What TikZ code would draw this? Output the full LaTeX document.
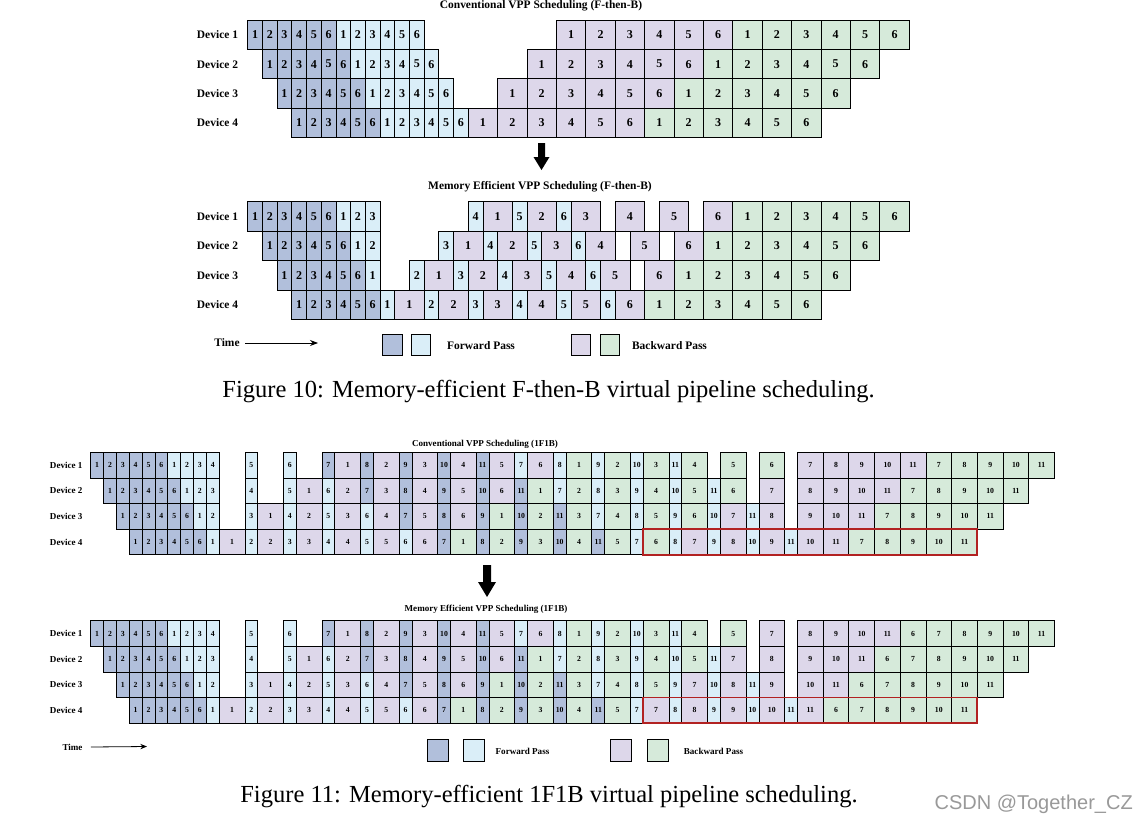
\documentclass[tikz,border=0pt]{standalone}
\usepackage{fontspec}
\setmainfont{Liberation Serif}
\setsansfont{Liberation Sans}
\usetikzlibrary{arrows.meta}

\definecolor{fwdA}{HTML}{B1BFDB}
\definecolor{fwdB}{HTML}{DAEEF8}
\definecolor{bwdA}{HTML}{DDD7EA}
\definecolor{bwdB}{HTML}{D6EADA}
\definecolor{hilite}{HTML}{B22222}
\colorlet{cellF}{fwdA}
\colorlet{cellf}{fwdB}
\colorlet{cellB}{bwdA}
\colorlet{cellb}{bwdB}

\newcommand\cellfont{}
\newcommand\labelfont{}
\newcommand\unitw{}
\newcommand\rowh{}
\newcommand\gridx{}
\newcommand\gridy{}

\tikzset{
  cell/.style={draw=black, line width=0.6pt, inner sep=0pt, outer sep=0pt,
    anchor=north west, font=\cellfont},
  devlabel/.style={anchor=east, inner sep=0pt, font=\labelfont},
  heading/.style={inner sep=0pt, font=\labelfont},
  legbox/.style={draw=black, line width=0.6pt, inner sep=0pt},
  caption/.style={inner sep=0pt, font=\fontsize{18.4}{20}\selectfont},
}

% one row of a schedule: #1 grid name, #2 device, #3 first column, #4 cells
% F/f forward (1 column), B/b backward (2 columns), g empty column
\newcommand\schedrow[4]{%
  \xdef\curcol{#3}%
  \foreach \kind/\lab in {#4}{%
    \def\cellw{1}%
    \if\kind B\def\cellw{2}\fi
    \if\kind b\def\cellw{2}\fi
    \if\kind g\else
      \node[cell, fill=cell\kind, minimum width=\cellw*\unitw*0.75pt,
        minimum height=\rowh*0.75pt] (#1-#2-\curcol)
        at ({\gridx+\curcol*\unitw}, {\gridy+(#2-1)*\rowh}) {\lab};
    \fi
    \pgfmathtruncatemacro\nextcol{\curcol+\cellw}%
    \xdef\curcol{\nextcol}%
  }%
}

\begin{document}
\begin{tikzpicture}[x=0.75pt, y=-0.75pt]
    \fill[white] (0,0) rectangle (1138,824);
    \useasboundingbox (0,0) rectangle (1138,824);

    %% Figure 10
    \renewcommand\cellfont{\fontsize{9}{10}\selectfont\bfseries}
    \renewcommand\labelfont{\fontsize{8.6}{9}\selectfont\bfseries}
    \renewcommand\unitw{14.7}
    \renewcommand\rowh{29.4}
    \renewcommand\gridx{247.7}

    % conventional F-then-B
    \renewcommand\gridy{20}
    \node[heading] (cv-title) at (541,5.5) {Conventional VPP Scheduling (F-then-B)};
    \foreach \dev/\fs/\bs in {1/0/21,2/1/19,3/2/17,4/3/15}{
        \node[devlabel] (cv-dev\dev) at ({\gridx-9.4}, {\gridy+(\dev-0.5)*\rowh}) {Device \dev};
        \schedrow{cv}{\dev}{\fs}{F/1,F/2,F/3,F/4,F/5,F/6,f/1,f/2,f/3,f/4,f/5,f/6}
        \schedrow{cv}{\dev}{\bs}{B/1,B/2,B/3,B/4,B/5,B/6,b/1,b/2,b/3,b/4,b/5,b/6}
    }

    \fill (538,143) -- (545,143) -- (545,157) -- (549.5,157) -- (541.5,170)
        -- (533.5,157) -- (538,157) -- cycle;

    % memory efficient F-then-B
    \renewcommand\gridy{201.7}
    \node[heading] (me-title) at (540,187) {Memory Efficient VPP Scheduling (F-then-B)};
    \foreach \dev in {1,...,4}
        \node[devlabel] (me-dev\dev) at ({\gridx-9.4}, {\gridy+(\dev-0.5)*\rowh}) {Device \dev};
    \schedrow{me}{1}{0}{F/1,F/2,F/3,F/4,F/5,F/6,f/1,f/2,f/3}
    \schedrow{me}{1}{15}{f/4,B/1,f/5,B/2,f/6,B/3,g/-,B/4,g/-,B/5,g/-,B/6,b/1,b/2,b/3,b/4,b/5,b/6}
    \schedrow{me}{2}{1}{F/1,F/2,F/3,F/4,F/5,F/6,f/1,f/2}
    \schedrow{me}{2}{13}{f/3,B/1,f/4,B/2,f/5,B/3,f/6,B/4,g/-,B/5,g/-,B/6,b/1,b/2,b/3,b/4,b/5,b/6}
    \schedrow{me}{3}{2}{F/1,F/2,F/3,F/4,F/5,F/6,f/1}
    \schedrow{me}{3}{11}{f/2,B/1,f/3,B/2,f/4,B/3,f/5,B/4,f/6,B/5,g/-,B/6,b/1,b/2,b/3,b/4,b/5,b/6}
    \schedrow{me}{4}{3}{F/1,F/2,F/3,F/4,F/5,F/6,f/1,B/1,f/2,B/2,f/3,B/3,f/4,B/4,f/5,B/5,f/6,B/6,b/1,b/2,b/3,b/4,b/5,b/6}

    % legend
    \node[heading] (time1) at (227,343) {Time};
    \coordinate (time1end) at (318,343);
    \draw[line width=0.6pt, -{Stealth[length=6pt,width=4.5pt]}] ([xshift=4pt]time1.east) -- (time1end);
    \node[legbox, fill=fwdA, minimum width=14.6pt, minimum height=15.8pt] (leg1F) at (392.5,345) {};
    \node[legbox, fill=fwdB, minimum width=14.6pt, minimum height=15.8pt] (leg1f) at (421,345) {};
    \node[heading] (leg1fwd) at (481,345.5) {Forward Pass};
    \node[legbox, fill=bwdA, minimum width=14.6pt, minimum height=15.8pt] (leg1B) at (581,345) {};
    \node[legbox, fill=bwdB, minimum width=14.6pt, minimum height=15.8pt] (leg1b) at (610,345) {};
    \node[heading] (leg1bwd) at (669.5,345.5) {Backward Pass};

    \node[caption] (cap10) at (548.5,392) {Figure 10: Memory-efficient F-then-B virtual pipeline scheduling.};

    %% Figure 11
    \renewcommand\cellfont{\fontsize{5.8}{6}\selectfont\bfseries}
    \renewcommand\labelfont{\fontsize{6.8}{7}\selectfont\bfseries}
    \renewcommand\unitw{12.85}
    \renewcommand\rowh{25.6}
    \renewcommand\gridx{90.7}

    % conventional 1F1B
    \renewcommand\gridy{452.3}
    \node[heading] (cw-title) at (485,444.5) {Conventional VPP Scheduling (1F1B)};
    \foreach \dev in {1,...,4}
        \node[devlabel] (cw-dev\dev) at ({\gridx-8}, {\gridy+(\dev-0.5)*\rowh}) {Device \dev};
    \schedrow{cw}{1}{0}{F/1,F/2,F/3,F/4,F/5,F/6,f/1,f/2,f/3,f/4,g/-,g/-,f/5,g/-,g/-,f/6,g/-,g/-,F/7,B/1,F/8,B/2,F/9,B/3,F/10,B/4,F/11,B/5,f/7,B/6,f/8,b/1,f/9,b/2,f/10,b/3,f/11,b/4,g/-,b/5,g/-,b/6,g/-,B/7,B/8,B/9,B/10,B/11,b/7,b/8,b/9,b/10,b/11}
    \schedrow{cw}{2}{1}{F/1,F/2,F/3,F/4,F/5,F/6,f/1,f/2,f/3,g/-,g/-,f/4,g/-,g/-,f/5,B/1,f/6,B/2,F/7,B/3,F/8,B/4,F/9,B/5,F/10,B/6,F/11,b/1,f/7,b/2,f/8,b/3,f/9,b/4,f/10,b/5,f/11,b/6,g/-,B/7,g/-,B/8,B/9,B/10,B/11,b/7,b/8,b/9,b/10,b/11}
    \schedrow{cw}{3}{2}{F/1,F/2,F/3,F/4,F/5,F/6,f/1,f/2,g/-,g/-,f/3,B/1,f/4,B/2,f/5,B/3,f/6,B/4,F/7,B/5,F/8,B/6,F/9,b/1,F/10,b/2,F/11,b/3,f/7,b/4,f/8,b/5,f/9,b/6,f/10,B/7,f/11,B/8,g/-,B/9,B/10,B/11,b/7,b/8,b/9,b/10,b/11}
    \schedrow{cw}{4}{3}{F/1,F/2,F/3,F/4,F/5,F/6,f/1,B/1,f/2,B/2,f/3,B/3,f/4,B/4,f/5,B/5,f/6,B/6,F/7,b/1,F/8,b/2,F/9,b/3,F/10,b/4,F/11,b/5,f/7,b/6,f/8,B/7,f/9,B/8,f/10,B/9,f/11,B/10,B/11,b/7,b/8,b/9,b/10,b/11}
    \draw[hilite, line width=1.3pt] (cw-4-43.north west) rectangle (cw-4-67.south east);

    \fill (483,565) -- (491,565) -- (491,582) -- (496,582) -- (487,597)
        -- (478,582) -- (483,582) -- cycle;

    % memory efficient 1F1B
    \renewcommand\gridy{620.7}
    \node[heading] (mw-title) at (486,609.5) {Memory Efficient VPP Scheduling (1F1B)};
    \foreach \dev in {1,...,4}
        \node[devlabel] (mw-dev\dev) at ({\gridx-8}, {\gridy+(\dev-0.5)*\rowh}) {Device \dev};
    \schedrow{mw}{1}{0}{F/1,F/2,F/3,F/4,F/5,F/6,f/1,f/2,f/3,f/4,g/-,g/-,f/5,g/-,g/-,f/6,g/-,g/-,F/7,B/1,F/8,B/2,F/9,B/3,F/10,B/4,F/11,B/5,f/7,B/6,f/8,b/1,f/9,b/2,f/10,b/3,f/11,b/4,g/-,b/5,g/-,B/7,g/-,B/8,B/9,B/10,B/11,b/6,b/7,b/8,b/9,b/10,b/11}
    \schedrow{mw}{2}{1}{F/1,F/2,F/3,F/4,F/5,F/6,f/1,f/2,f/3,g/-,g/-,f/4,g/-,g/-,f/5,B/1,f/6,B/2,F/7,B/3,F/8,B/4,F/9,B/5,F/10,B/6,F/11,b/1,f/7,b/2,f/8,b/3,f/9,b/4,f/10,b/5,f/11,B/7,g/-,B/8,g/-,B/9,B/10,B/11,b/6,b/7,b/8,b/9,b/10,b/11}
    \schedrow{mw}{3}{2}{F/1,F/2,F/3,F/4,F/5,F/6,f/1,f/2,g/-,g/-,f/3,B/1,f/4,B/2,f/5,B/3,f/6,B/4,F/7,B/5,F/8,B/6,F/9,b/1,F/10,b/2,F/11,b/3,f/7,b/4,f/8,b/5,f/9,B/7,f/10,B/8,f/11,B/9,g/-,B/10,B/11,b/6,b/7,b/8,b/9,b/10,b/11}
    \schedrow{mw}{4}{3}{F/1,F/2,F/3,F/4,F/5,F/6,f/1,B/1,f/2,B/2,f/3,B/3,f/4,B/4,f/5,B/5,f/6,B/6,F/7,b/1,F/8,b/2,F/9,b/3,F/10,b/4,F/11,b/5,f/7,B/7,f/8,B/8,f/9,B/9,f/10,B/10,f/11,B/11,b/6,b/7,b/8,b/9,b/10,b/11}
    \draw[hilite, line width=1.3pt] (mw-4-43.north west) rectangle (mw-4-67.south east);

    % legend
    \node[heading] (time2) at (72.5,747) {Time};
    \coordinate (time2end) at (147,746.5);
    \draw[line width=0.6pt, -{Stealth[length=5pt,width=4pt]}] ([xshift=6pt]time2.east) -- (time2end);
    \node[legbox, fill=fwdA, minimum width=15.8pt, minimum height=17pt] (leg2F) at (437.5,750.5) {};
    \node[legbox, fill=fwdB, minimum width=15.8pt, minimum height=17pt] (leg2f) at (473.5,750.5) {};
    \node[heading] (leg2fwd) at (522.5,751) {Forward Pass};
    \node[legbox, fill=bwdA, minimum width=15.8pt, minimum height=17pt] (leg2B) at (620.5,750.5) {};
    \node[legbox, fill=bwdB, minimum width=15.8pt, minimum height=17pt] (leg2b) at (657.5,750.5) {};
    \node[heading] (leg2bwd) at (713.5,751) {Backward Pass};

    \node[caption] (cap11) at (549,797) {Figure 11: Memory-efficient 1F1B virtual pipeline scheduling.};

    \node[anchor=east, inner sep=0pt, text=black!40, font=\sffamily\fontsize{15}{15}\selectfont]
        (mark) at (1133,804) {CSDN @Together\_CZ};
\end{tikzpicture}
\end{document}
